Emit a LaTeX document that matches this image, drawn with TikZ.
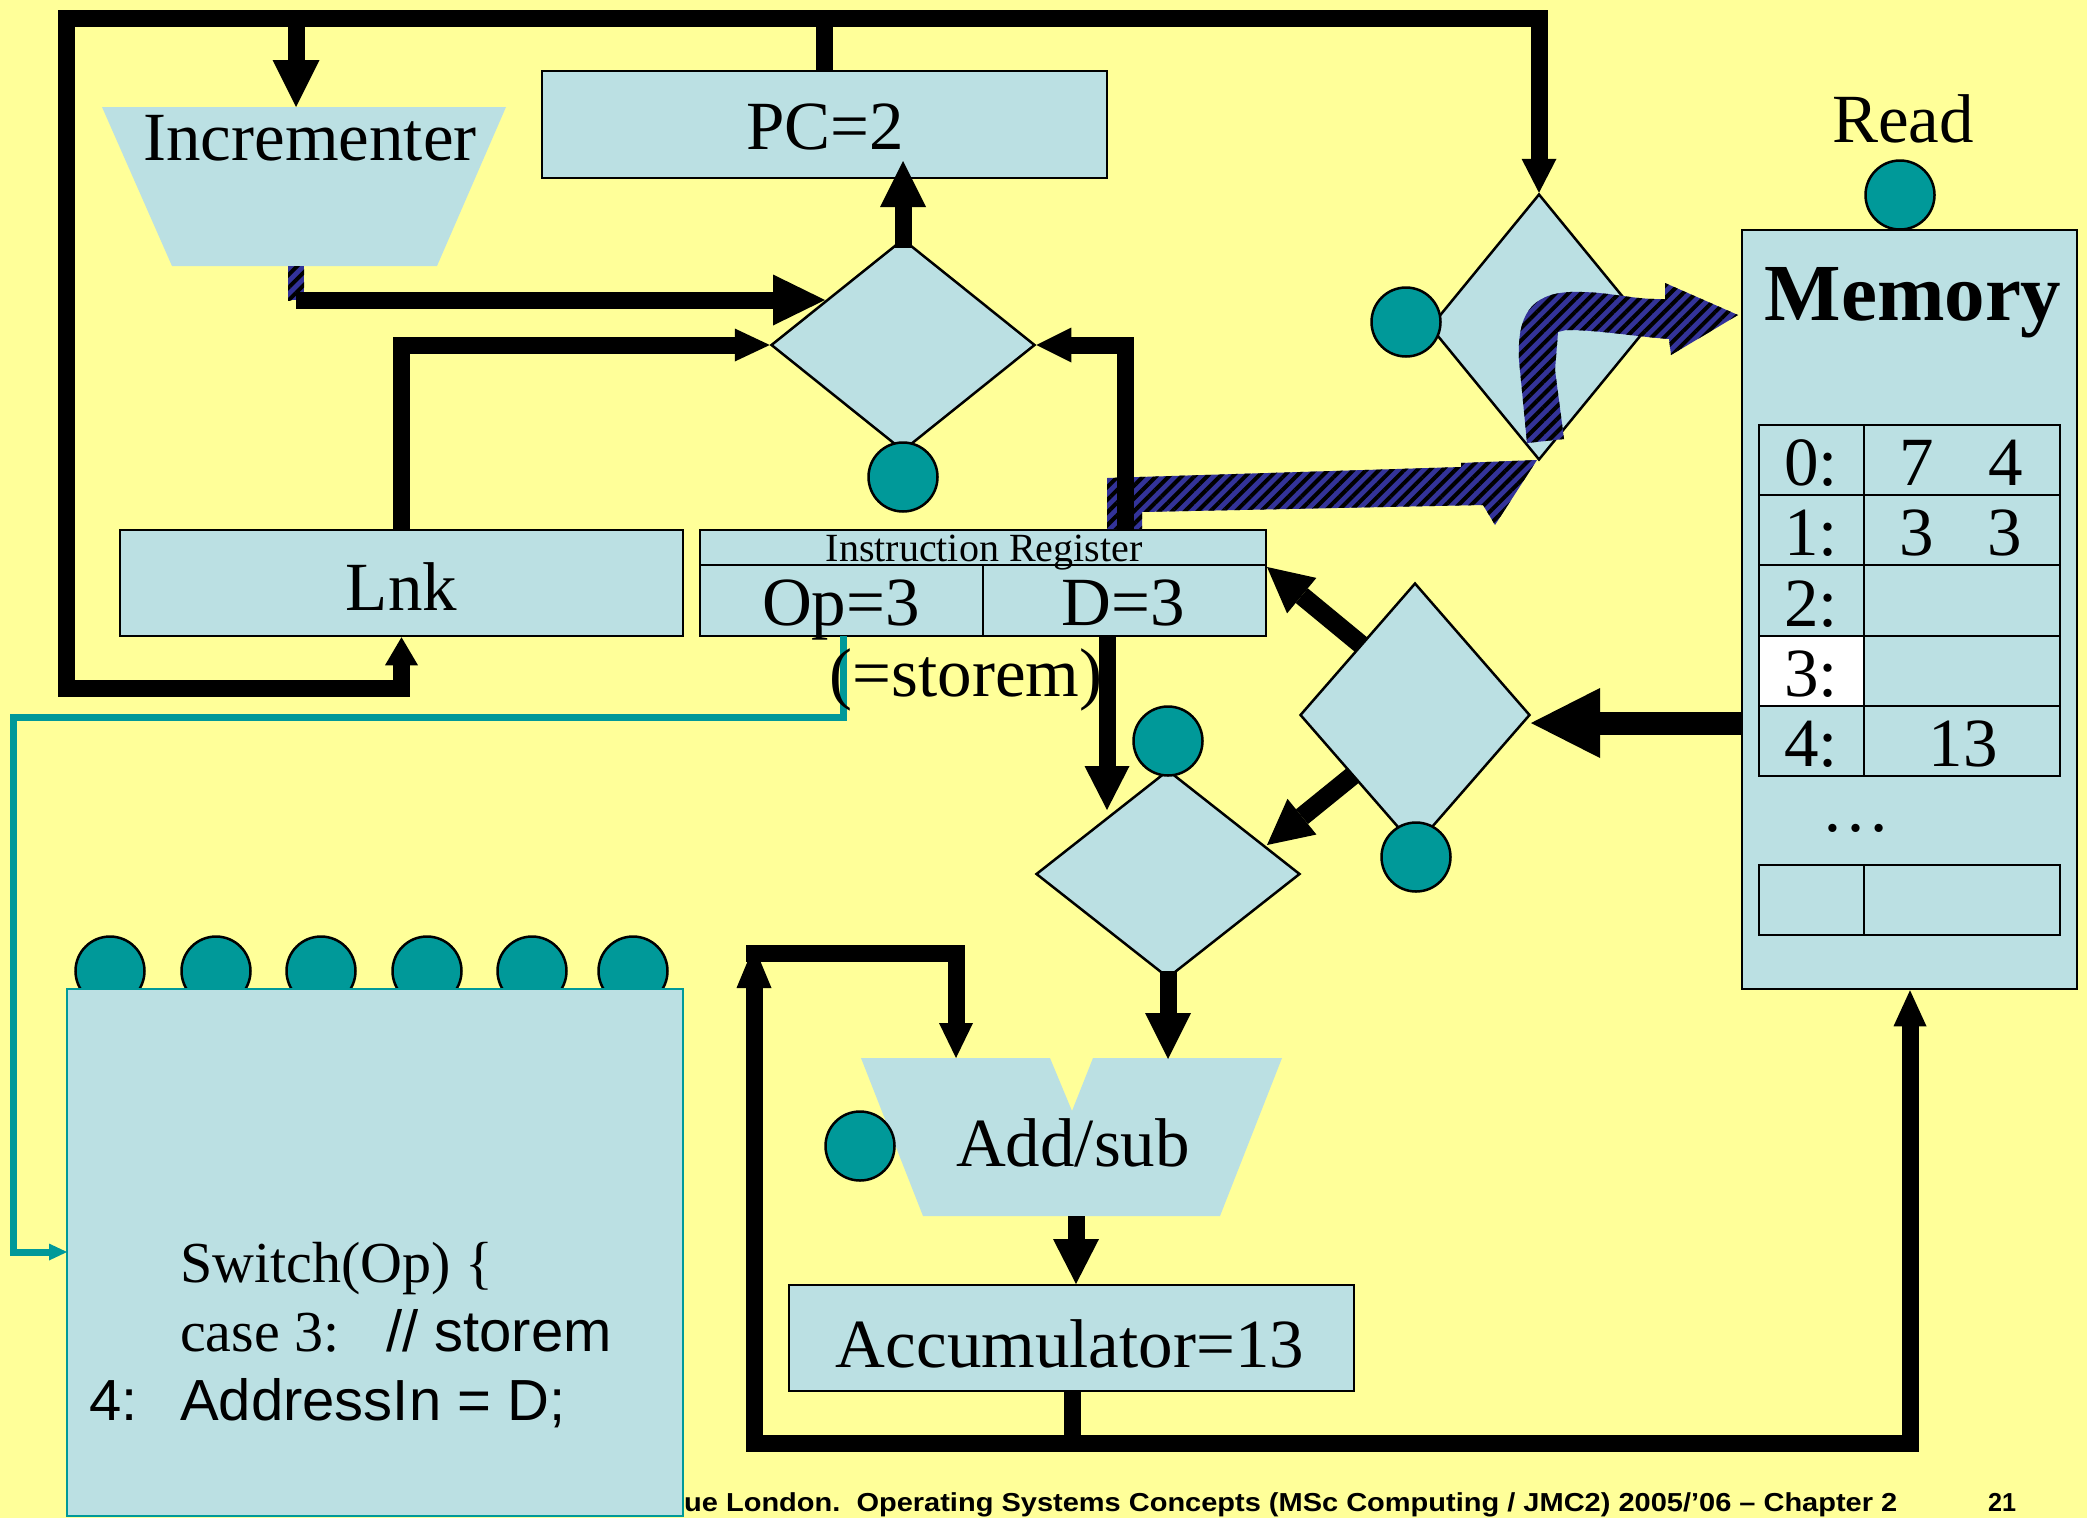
\documentclass[tikz,border=0pt]{standalone}
\usepackage{fontspec}
\setmainfont{Liberation Serif}
\newfontfamily\arialfont{Liberation Sans}
\usetikzlibrary{arrows.meta,shapes.geometric,patterns.meta,calc}
\definecolor{bgyellow}{HTML}{FFFF99}
\definecolor{boxblue}{HTML}{BBE0E3}
\definecolor{tealc}{HTML}{009999}
\definecolor{navyc}{HTML}{333399}
\newcommand{\fsz}[1]{\fontsize{#1}{#1}\selectfont}
\begin{document}
\begin{tikzpicture}[x=1pt,y=-1pt,
  box/.style={draw=black,line width=2.5pt,fill=boxblue,inner sep=0pt,rectangle},
  mux/.style={draw=black,line width=2.5pt,fill=boxblue,diamond,inner sep=0pt},
  ctl/.style={circle,draw=black,line width=2.5pt,fill=tealc,minimum size=69pt,inner sep=0pt},
  bus/.style={line width=17pt,line join=miter,draw=black},
  hd/.style 2 args={-{Triangle[length=#1pt,width=#2pt,line width=0pt]}},
  hatch/.style={preaction={fill=navyc},pattern={Lines[angle=45,distance=9pt,line width=4pt]},pattern color=black},
  txt/.style={inner sep=0pt,anchor=base,font=\fsz{69}},
  ltxt/.style={inner sep=0pt,anchor=base west,font=\fsz{58}},
  atxt/.style={inner sep=0pt,anchor=base west,font=\arialfont\fsz{58}},
]
\useasboundingbox (0,0) rectangle (2087,1518);
\fill[bgyellow] (0,0) rectangle (2087,1518);

% footer (partly hidden behind the control box)
\node[inner sep=0pt,anchor=base west] (foot) at (684,1511) {\resizebox{1213pt}{\height}{\arialfont\bfseries\fsz{26}ue London.\ \ Operating Systems Concepts (MSc Computing / JMC2) 2005/’06 – Chapter 2}};
\node[inner sep=0pt,anchor=base west] (pagenum) at (1988,1511) {\resizebox{28pt}{\height}{\arialfont\bfseries\fsz{26}21}};

% named points
\coordinate (inc) at (304,186);
\coordinate (incTop) at (296,107);
\coordinate (incOut) at (296,300);
\coordinate (adder) at (1071,1137);
\coordinate (addL) at (956,1058);
\coordinate (addR) at (1168,1059);
\coordinate (topL) at (66,18);
\coordinate (topR) at (1538,18);
\coordinate (botL) at (66,688);
\coordinate (irD) at (1125,530);
\coordinate (irDb) at (1107,636);
\coordinate (irOp) at (843,636);
\coordinate (accLoop) at (1072,1443);
\coordinate (loopL) at (754,1443);
\coordinate (loopR) at (1910,1443);
\coordinate (loopTop) at (754,946);
\coordinate (loopC) at (746,953);
\coordinate (tealA) at (13,717);

% trapezoids
\path[fill=boxblue] (102,107) -- (506,107) -- (437,266) -- (172,266) -- cycle;
\path[fill=boxblue] (861,1058) -- (1050,1058) -- (1072,1111) -- (1093,1058) -- (1282,1058) -- (1220,1216) -- (923,1216) -- cycle;

% boxes
\node[box,minimum width=565pt,minimum height=107pt] (pc) at (824.5,124.5) {};
\node[box,minimum width=563pt,minimum height=106pt] (lnk) at (401.5,583) {};
\node[box,minimum width=566pt,minimum height=106pt] (ir) at (983,583) {};
\draw[line width=2.5pt] (700,565) -- (1266,565) (983,565) -- (983,636);
\node[box,minimum width=565pt,minimum height=106pt] (acc) at (1071.5,1338) {};
\node[box,minimum width=335pt,minimum height=759pt] (mem) at (1909.5,609.5) {};

% memory table
\fill[white] (1759,636) rectangle (1864,706);
\draw[line width=2.5pt] (1759,425) rectangle (2060,776);
\draw[line width=2.5pt] (1759,495) -- (2060,495) (1759,565) -- (2060,565)
  (1759,636) -- (2060,636) (1759,706) -- (2060,706) (1864,425) -- (1864,776);
\draw[line width=2.5pt] (1759,865) rectangle (2060,935) (1864,865) -- (1864,935);

% diamonds
\node[mux,minimum width=264pt,minimum height=212pt] (d1) at (903,345) {};
\node[mux,minimum width=218pt,minimum height=266pt] (d2) at (1539,327) {};
\node[mux,minimum width=264pt,minimum height=208pt] (d3) at (1168,874) {};

% hatched data paths
\path[hatch] (288,266) rectangle (304,300);
\path[hatch] (1107,529) -- (1107,478) -- (1461,467) -- (1461,463) -- (1537,460) -- (1495,525) -- (1483,505) -- (1142,512) -- (1142,529) -- cycle;
\path[hatch] (1527,443) -- (1519,360) .. controls (1517,316) and (1530,294) .. (1570,292)
  .. controls (1610,291) and (1630,300) .. (1665,299) -- (1665,283) -- (1738,315) -- (1671,355) -- (1669,339)
  .. controls (1630,336) and (1600,330) .. (1566,330) -- (1558,332) -- (1555,370) -- (1564,439) -- cycle;

% black buses
\draw[bus,hd={28}{33}] (topR) -- (topL) -- (botL) -| (lnk.south);
\draw[bus,hd={34}{35}] (1400,18) -| (d2.north);
\draw[bus] (pc.north) -- (pc.north |- topL);
\draw[bus,hd={47}{47}] (incTop |- topL) -- (incTop);
\draw[bus,hd={52}{51}] (incOut) -- (825,300);
\draw[bus,hd={35}{33}] (lnk.north) |- (d1.west);
\draw[bus,hd={35}{35}] (irD) |- (d1.east);
\draw[bus,hd={46}{46}] (903,248) -- (903,161);
\draw[bus,hd={44}{45}] (irDb) -- (1107,810);
\draw[bus,hd={46}{46}] (1168,971) -- (addR);
\draw[bus,hd={45}{46}] (1076,1216) -- (1076,1284);
\draw[bus] (acc.south -| accLoop) -- (accLoop);
\draw[bus,hd={42}{35}] (1080,1443) -- (loopL) -- (loopTop);
\draw[bus,hd={36}{33}] (1064,1443) -- (loopR) -- (loopR |- mem.south);
\draw[bus,hd={35}{34}] (loopC) -| (addL);
\draw[black,line width=23pt,hd={69}{70}] (mem.west |- 0,723) -- (1531,723);
\draw[black,line width=19pt,hd={45}{46}] (1370,652) -- (1267,567);
\draw[black,line width=19pt,hd={45}{46}] (1362,768) -- (1267,845);

% teal control line
\draw[tealc,line width=7pt,line join=miter,hd={18}{17}] (irOp) |- (tealA) |- (67,1252);

% right mux
\node[mux,minimum width=230pt,minimum height=264pt] (d4) at (1415,715) {};

% control signals
\node[ctl] (c1) at (903,477) {};
\node[ctl] (c2) at (1900,195) {};
\node[ctl] (c3) at (1406,322) {};
\node[ctl] (c4) at (1168,741) {};
\node[ctl] (c5) at (1416,857) {};
\node[ctl] (c6) at (860,1146) {};
\node[ctl] (k1) at (110,971) {};
\node[ctl] (k2) at (216,971) {};
\node[ctl] (k3) at (321,971) {};
\node[ctl] (k4) at (427,971) {};
\node[ctl] (k5) at (532,971) {};
\node[ctl] (k6) at (633,971) {};

% control unit box
\node[draw=tealc,line width=2.5pt,fill=boxblue,inner sep=0pt,minimum width=616pt,minimum height=527pt] (cu) at (375,1252.5) {};

% texts
\node[txt] (inctxt) at (310,160) {Incrementer};
\node[txt] (pctxt) at (825.5,149.5) {PC=2};
\node[txt] (lnktxt) at (401.5,610) {Lnk};
\node[txt,font=\fsz{40}] (irtxt) at (984,561) {Instruction Register};
\node[txt] (optxt) at (841,625) {Op=3};
\node[txt] (dtxt) at (1123,625) {D=3};
\node[txt] (stxt) at (966,696) {(=storem)};
\node[txt] (readtxt) at (1903,142) {Read};
\node[txt,font=\fsz{81}\bfseries] (memtxt) at (1913,320) {Memory};
\node[txt] (addtxt) at (1073,1166) {Add/sub};
\node[txt] (acctxt) at (1070,1367) {Accumulator=13};

\node[txt] (m0) at (1811,485) {0:};
\node[txt] (m1) at (1811,555) {1:};
\node[txt] (m2) at (1811,626) {2:};
\node[txt] (m3) at (1811,696) {3:};
\node[txt] (m4) at (1811,766) {4:};
\node[txt] (v0a) at (1917,485) {7};
\node[txt] (v0b) at (2006,485) {4};
\node[txt] (v1a) at (1917,555) {3};
\node[txt] (v1b) at (2005,555) {3};
\node[txt] (v4) at (1963,766) {13};
\node[txt] (dots) at (1856,831) {…};

\node[ltxt] (sw) at (180,1282) {Switch(Op) \{};
\node[ltxt] (cs) at (180,1351) {case 3:};
\node[atxt] (cm) at (386,1351) {// storem};
\node[atxt] (four) at (89,1420) {4:};
\node[atxt] (addr) at (180,1420) {AddressIn = D;};
\end{tikzpicture}
\end{document}
